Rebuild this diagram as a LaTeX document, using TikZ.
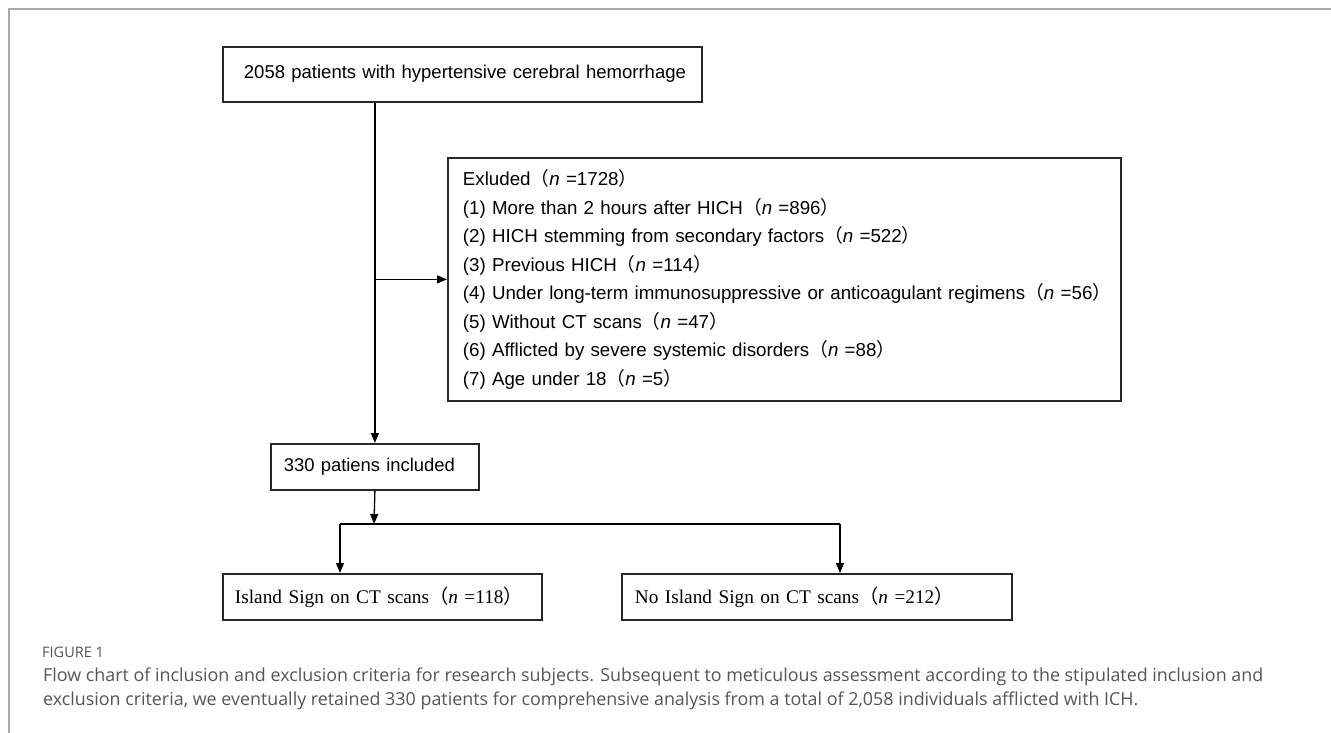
\documentclass[tikz,border=0pt]{standalone}
\usepackage{fontspec}
\setmainfont{Liberation Sans}
\newfontfamily\sansbox{Liberation Sans}
\newfontfamily\serifbox{Liberation Serif}
\newfontfamily\capfont{Open Sans}
\newfontfamily\cjkfont{Noto Sans CJK SC}
\usetikzlibrary{arrows.meta,calc}
\definecolor{boxline}{RGB}{40,40,40}
\definecolor{capgray}{RGB}{85,85,85}
\definecolor{framegray}{RGB}{170,170,170}
\newcommand{\lp}{{\cjkfont （}}
\newcommand{\rp}{{\cjkfont ）}}
\newlength\fitw
% #1 font switch, #2 text, #3 target width (pt), #4 macro receiving font size
\newcommand\fitsize[4]{%
  \setbox0=\hbox{#1\fontsize{10}{12}\selectfont #2}%
  \fitw=\wd0\relax
  \pgfmathsetmacro#4{10*#3/\fitw}%
  \global\let#4#4}
\AtBeginDocument{%
\fitsize{\sansbox}{2058 patients with hypertensive cerebral hemorrhage}{437}{\bsize}%
\fitsize{\sansbox}{(4) Under long-term immunosuppressive or anticoagulant regimens\lp\textit{n} =56\rp}{641}{\esize}%
\fitsize{\sansbox}{330 patiens included}{169}{\isize}%
\fitsize{\serifbox}{Island Sign on CT scans\lp\textit{n} =118\rp}{280}{\ssize}%
\fitsize{\capfont}{Flow chart of inclusion and exclusion criteria for research subjects. Subsequent to meticulous assessment according to the stipulated inclusion and}{1220}{\csize}%
}
\tikzset{
  flowbox/.style={draw=boxline, line width=1.8pt, fill=white, anchor=north west, align=left, inner ysep=0pt},
  arr/.style={draw=black, line width=1.3pt, -{Triangle[length=10pt,width=8pt]}},
  conn/.style={draw=black, line width=1.3pt},
  captxt/.style={anchor=base west, inner sep=0pt, text=capgray}
}
\begin{document}
\begin{tikzpicture}[x=1pt,y=-1pt]
\useasboundingbox (0,0) rectangle (1331,733);
\draw[framegray, line width=1.3pt] (9,733) -- (9,9) -- (1331,9);

\node[flowbox, inner xsep=21pt, text width=437pt, minimum height=55pt, font=\sansbox\fontsize{\bsize}{22}\selectfont] (b1) at (222,46)
  {\raisebox{5pt}{\mbox{2058 patients with hypertensive cerebral hemorrhage}}};

\node[flowbox, inner xsep=15pt, text width=643pt, minimum height=243pt, font=\sansbox\fontsize{\esize}{28.5}\selectfont] (excl) at (447,157)
  {\mbox{Exluded\lp\textit{n} =1728\rp}\\
   \mbox{(1) More than 2 hours after HICH\lp\textit{n} =896\rp}\\
   \mbox{(2) HICH stemming from secondary factors\lp\textit{n} =522\rp}\\
   \mbox{(3) Previous HICH\lp\textit{n} =114\rp}\\
   \mbox{(4) Under long-term immunosuppressive or anticoagulant regimens\lp\textit{n} =56\rp}\\
   \mbox{(5) Without CT scans\lp\textit{n} =47\rp}\\
   \mbox{(6) Afflicted by severe systemic disorders\lp\textit{n} =88\rp}\\
   \mbox{(7) Age under 18\lp\textit{n} =5\rp}};

\node[flowbox, inner xsep=13pt, text width=182pt, minimum height=46pt, font=\sansbox\fontsize{\isize}{22}\selectfont] (inc) at (270,443)
  {\raisebox{2pt}{\mbox{330 patiens included}}};

\node[flowbox, inner xsep=12pt, text width=295pt, minimum height=46pt, font=\serifbox\fontsize{\ssize}{22}\selectfont] (isl) at (222,573)
  {\mbox{Island Sign on CT scans\lp\textit{n} =118\rp}};

\node[flowbox, inner xsep=13pt, text width=364pt, minimum height=46pt, font=\serifbox\fontsize{\ssize}{22}\selectfont] (noisl) at (621,573)
  {\mbox{No Island Sign on CT scans\lp\textit{n} =212\rp}};

\draw[arr] (inc.north |- b1.south) -- (inc.north);
\draw[arr] (inc.north |- excl.west) -- (excl.west);

\coordinate (split) at (374,524);
\coordinate (L) at (340,524);
\coordinate (R) at (840,524);
\draw[arr] (inc.south) -- (split);
\draw[conn] (L) -- (R);
\draw[arr] (L) -- (L |- isl.north);
\draw[arr] (R) -- (R |- noisl.north);

\node[captxt, font=\capfont\fontsize{14.5}{16}\selectfont] (fig) at (42,657) {FIGURE 1};
\node[captxt, font=\capfont\fontsize{\csize}{25}\selectfont] (cap1) at (43,681) {Flow chart of inclusion and exclusion criteria for research subjects. Subsequent to meticulous assessment according to the stipulated inclusion and};
\node[captxt, font=\capfont\fontsize{\csize}{25}\selectfont] (cap2) at (43,705) {exclusion criteria, we eventually retained 330 patients for comprehensive analysis from a total of 2,058 individuals afflicted with ICH.};
\end{tikzpicture}
\end{document}
